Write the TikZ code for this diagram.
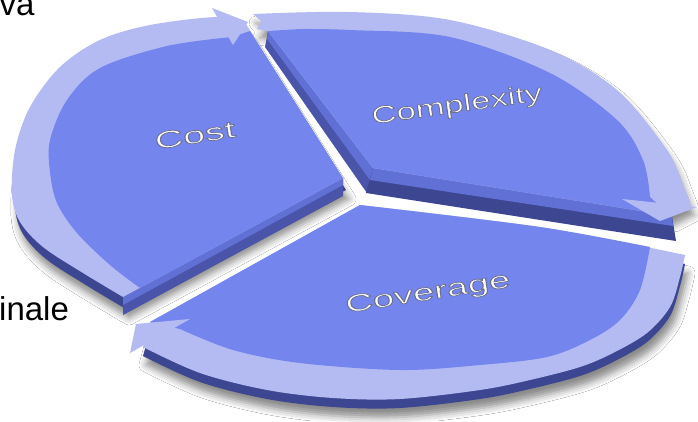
\documentclass[tikz,border=0pt]{standalone}
\usepackage{fontspec}
\setmainfont{Liberation Sans}
\usetikzlibrary{shadows.blur}
\definecolor{face}{HTML}{7585EE}
\definecolor{ring}{HTML}{B4BBF2}
\definecolor{bevel}{HTML}{6170D4}
\definecolor{side}{HTML}{4A54A8}
\definecolor{sidedk}{HTML}{3D4690}
\newcommand\PieCostOut{plot[smooth,tension=0.55] coordinates {(246,24) (218,17) (150,25) (100,40) (60,67) (30,107) (15,150) (12,195) (20,222) (43,247) (83,273) (123,297)} -- (343,178) -- cycle}
\newcommand\PieCostIn{(250,31) -- plot[smooth,tension=0.55] coordinates {(232,37) (167,46) (100,68) (67,100) (50,140) (50,172) (57,203) (77,233) (110,265) (140,288)} -- (343,178) -- cycle}
\newcommand\PieCplxOut{(268,31) -- (257,29) -- (261,21) -- plot[smooth,tension=0.55] coordinates {(253,14) (350,12) (450,20) (550,50) (617,90) (667,150) (684,187) (691,206)} -- (672,216) -- (373,168) -- cycle}
\newcommand\PieCplxIn{(268,31) -- plot[smooth,tension=0.55] coordinates {(300,29) (350,30) (450,37) (550,73) (617,120) (643,160) (650,197)} -- (666,212) -- (672,216) -- (373,168) -- cycle}
\newcommand\PieCovOut{(360,205) -- (150,322) -- plot[smooth,tension=0.55] coordinates {(143,347) (200,373) (267,390) (333,398) (400,399) (480,390) (530,380) (580,367) (613,353) (647,333) (670,307) (680,277) (685,255)} -- plot[smooth] coordinates {(685,255) (540,227) (360,205)} -- cycle}
\newcommand\PieCovIn{(360,205) -- (150,322) -- plot[smooth,tension=0.55] coordinates {(180,329) (233,350) (300,363) (400,370) (480,365) (547,357) (590,340) (620,320) (640,290) (650,247)} -- plot[smooth] coordinates {(650,247) (540,227) (360,205)} -- cycle}
\newcommand\PieOutlined[1]{\special{pdf:literal direct 2 Tr 0.7 w 0.42 0.44 0.55 RG}#1\special{pdf:literal direct 0 Tr}}
\tikzset{
  lbl/.style={font=\fontsize{24}{24}\selectfont, text=white, inner sep=0pt},
  plain/.style={font=\fontsize{33}{33}\selectfont, text=black, inner sep=0pt, anchor=base west},
  pieshadow/.style={blur shadow={shadow xshift=3pt, shadow yshift=-9pt, shadow blur radius=7pt, shadow opacity=45}}
}
\begin{document}
\begin{tikzpicture}[x=1pt,y=-1pt,line join=round]
\useasboundingbox (0,0) rectangle (698,421);
\fill[white] (0,0) rectangle (698,421);
% shadows
\path[pieshadow] \PieCplxOut;
\path[pieshadow, shift={(3,12)}] \PieCostOut;
\path[pieshadow, shift={(0,9)}] \PieCovOut;
% Complexity (back)
\fill[side] (268,31) -- (373,168) -- (367,193) -- (265,47) -- cycle;
\fill[bevel] (268,31) -- (373,168) -- (370,180) -- (267,39) -- cycle;
\fill[sidedk] (373,168) -- (672,216) -- (676,241) -- (366,193) -- cycle;
\fill[bevel] (373,168) -- (672,216) -- (673,226) -- (370,180) -- cycle;
\fill[ring] \PieCplxOut;
\fill[face] \PieCplxIn;
\fill[ring] (622,199) -- (660,221) -- (697,207) -- cycle;
% Cost
\fill[sidedk, shift={(3,12)}] \PieCostOut;
\fill[side] (123,297) -- (343,178) -- (343,196) -- (123,315) -- cycle;
\fill[bevel] (123,297) -- (343,178) -- (343,185) -- (123,305) -- cycle;
\fill[ring] \PieCostOut;
\fill[face] \PieCostIn;
\fill[ring] (212,8) -- (248,22) -- (233,45) -- cycle;
% Coverage
\fill[sidedk, shift={(0,9)}] \PieCovOut;
\fill[ring] \PieCovOut;
\fill[face] \PieCovIn;
\fill[ring] (190,319) -- (136,324) -- (130,353) -- cycle;
% labels
\node[lbl, rotate=9, xscale=1.65] (cost) at (195,135) {\PieOutlined{Cost}};
\node[lbl, rotate=8, xscale=1.45] (cplx) at (457,106) {\PieOutlined{Complexity}};
\node[lbl, rotate=9, xscale=1.6] (cov) at (428,294) {\PieOutlined{Coverage}};
% cut-off side texts
\node[plain] (va) at (-0.5,15) {va};
\node[plain] (inale) at (-1,320) {inale};
\end{tikzpicture}
\end{document}
